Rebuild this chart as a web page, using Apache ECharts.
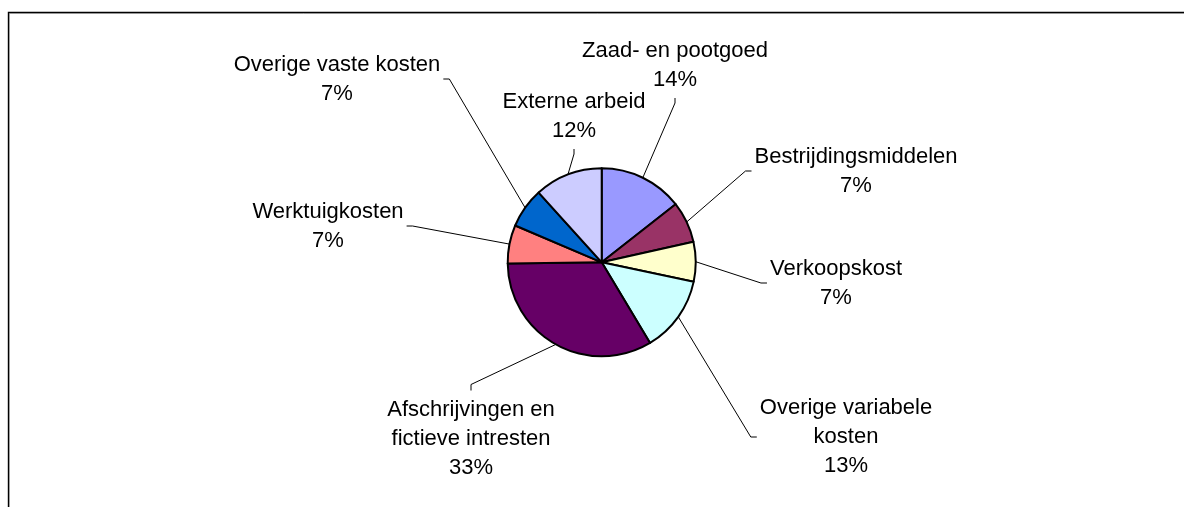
<!DOCTYPE html>
<html lang="nl">
<head>
<meta charset="UTF-8">
<title>Kostenverdeling</title>
<script src="https://cdn.jsdelivr.net/npm/echarts@6/dist/echarts.min.js"></script>
<style>
  html, body { margin: 0; padding: 0; background: #fff; }
  #chart { width: 1184px; height: 507px; }
</style>
</head>
<body>
<div id="chart"></div>
<script>
// kostenposten, met de klok mee vanaf 12 uur
var categories = [
  'Zaad- en pootgoed',
  'Bestrijdingsmiddelen',
  'Verkoopskost',
  'Overige variabele\nkosten',
  'Afschrijvingen en\nfictieve intresten',
  'Werktuigkosten',
  'Overige vaste kosten',
  'Externe arbeid'
];
var shares = [14.4, 7.1, 6.8, 13.1, 33.4, 6.6, 6.9, 11.7];
var colors = ['#9999FF', '#993366', '#FFFFCC', '#CCFFFF', '#660066', '#FF8080', '#0066CC', '#CCCCFF'];

// plaats van de labels (midden van het tekstblok) en waar de lijn aankomt
var labelPos = [[675, 65], [856, 171], [836, 283], [846, 437], [471, 439], [328, 226], [337, 79], [574, 116]];
var lineSide = ['bottom', 'left', 'left', 'left', 'top', 'right', 'right', 'bottom'];

var chart = echarts.init(document.getElementById('chart'));

var pieData = [];
for (var i = 0; i < categories.length; i++) {
  pieData.push({ name: categories[i], value: shares[i], itemStyle: { color: colors[i] } });
}

var font = "'Liberation Sans', Arial, sans-serif";

var option = {
  animation: false,
  backgroundColor: '#fff',
  graphic: [
    // kader van de grafiek (loopt buiten beeld door)
    { type: 'rect', silent: true, z: -1,
      shape: { x: 9.5, y: 13.5, width: 1300, height: 700 },
      style: { fill: null, stroke: '#c8c8c8', lineWidth: 1 } },
    { type: 'rect', silent: true, z: -1,
      shape: { x: 8.5, y: 12.5, width: 1300, height: 700 },
      style: { fill: null, stroke: '#000', lineWidth: 1.4 } }
  ],
  series: [{
    type: 'pie',
    center: [601.7, 262.3],
    radius: 94,
    startAngle: 90,
    clockwise: true,
    avoidLabelOverlap: false,
    data: pieData,
    itemStyle: { borderColor: '#000', borderWidth: 2 },
    emphasis: { disabled: true },
    label: {
      show: true,
      position: 'outside',
      color: '#000',
      fontFamily: font,
      fontSize: 22,
      lineHeight: 29,
      align: 'center',
      formatter: function (p) {
        return p.name + '\n' + Math.round(p.percent) + '%';
      }
    },
    labelLine: {
      show: true,
      length: 10,
      length2: 5,
      smooth: false,
      lineStyle: { color: '#000', width: 1 }
    },
    labelLayout: function (params) {
      var idx = params.dataIndex;
      var pos = labelPos[idx];
      var w = params.labelRect.width, h = params.labelRect.height;
      var end, elbow;
      switch (lineSide[idx]) {
        case 'bottom':
          end = [pos[0], pos[1] + h / 2 + 4];
          elbow = [pos[0], end[1] + 5];
          break;
        case 'top':
          end = [pos[0], pos[1] - h / 2 - 5];
          elbow = [pos[0], end[1] - 6];
          break;
        case 'left':
          end = [pos[0] - w / 2 - 3, pos[1]];
          elbow = [end[0] - 6, pos[1]];
          break;
        default:
          end = [pos[0] + w / 2 + 3, pos[1]];
          elbow = [end[0] + 6, pos[1]];
      }
      var start = params.labelLinePoints ? params.labelLinePoints[0] : elbow;
      return {
        x: pos[0],
        y: pos[1],
        align: 'center',
        verticalAlign: 'middle',
        labelLinePoints: [start, elbow, end]
      };
    }
  }]
};

chart.setOption(option);
</script>
</body>
</html>
